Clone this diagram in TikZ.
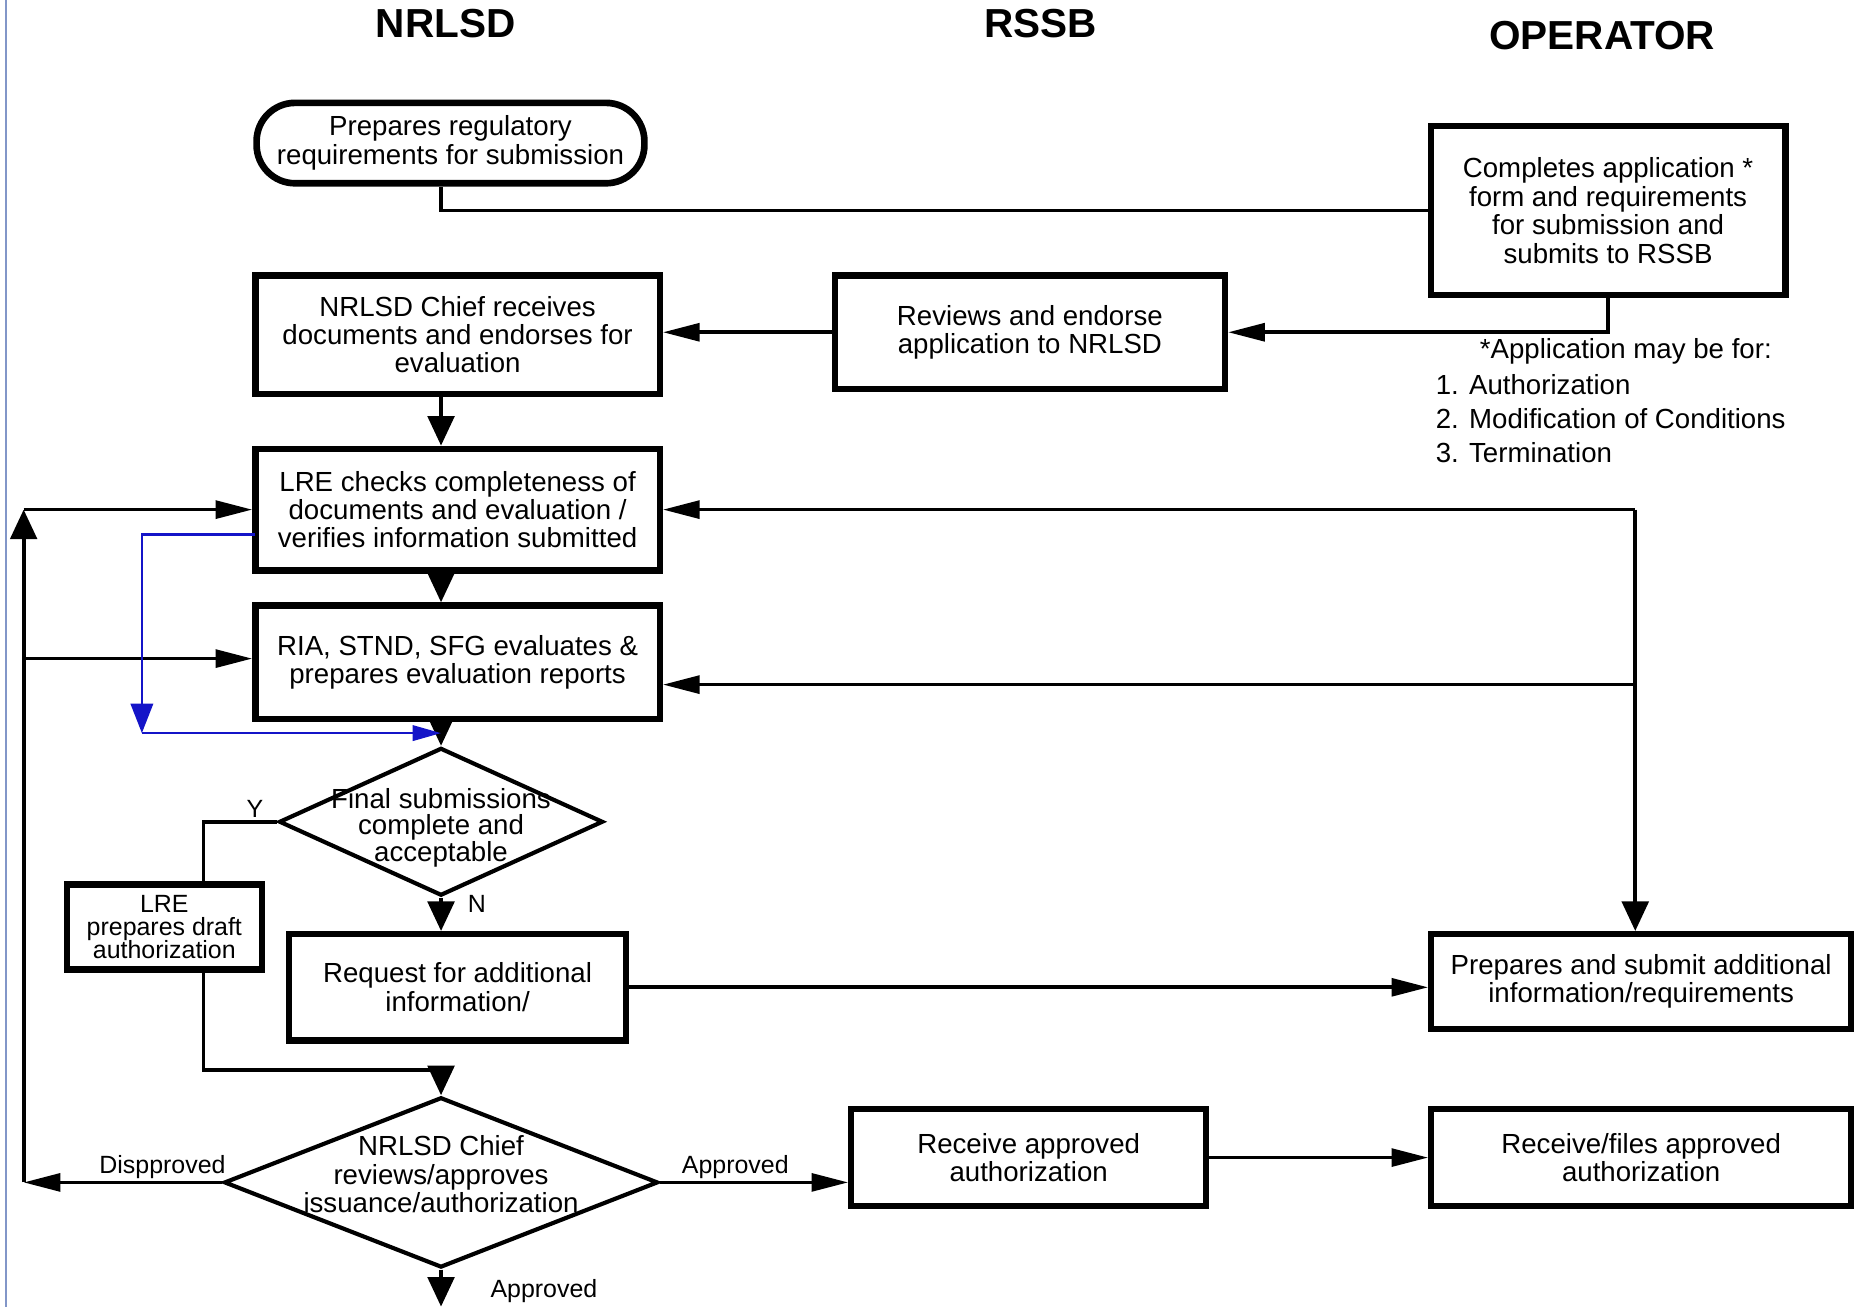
\documentclass[tikz,border=0pt]{standalone}
\usepackage{fontspec}
\setmainfont{Liberation Sans}
\usetikzlibrary{arrows.meta,shapes.geometric}
\def\bxf{\fontsize{13.3}{13.7}\selectfont}
\def\ttlf{\fontsize{19.5}{21}\selectfont\bfseries}
\def\smf{\fontsize{12}{11.2}\selectfont}
\def\fdf{\fontsize{13.3}{12.6}\selectfont}
\def\lbf{\fontsize{12}{14}\selectfont}
\def\ntf{\fontsize{13.3}{16.4}\selectfont}
\definecolor{flowblue}{RGB}{20,20,200}
\definecolor{edgeblue}{RGB}{130,150,200}

\begin{document}
\begin{tikzpicture}[x=.2mm, y=-.2mm,
  box/.style={draw, line width=3pt, align=center, font=\bxf, inner sep=2pt},
  term/.style={draw, rectangle, rounded corners=6.5mm, line width=3.2pt, align=center, font=\bxf},
  decision/.style={diamond, draw, line width=2pt, inner sep=0pt},
  ttl/.style={font=\ttlf},
  lbl/.style={font=\lbf, inner sep=1pt},
  note/.style={font=\ntf, inner sep=0pt},
  conn/.style={line width=1.8pt},
  harr/.style={conn, -{Triangle[length=6.2mm,width=3mm]}},
  varr/.style={conn, -{Triangle[length=5mm,width=4.5mm]}},
  bline/.style={draw=flowblue, line width=1.2pt},
  bharr/.style={bline, -{Triangle[length=4.8mm,width=2.6mm]}},
  bvarr/.style={bline, -{Triangle[length=5mm,width=3.8mm]}}]
\useasboundingbox (0,0) rectangle (1568,1105);
\draw[draw=edgeblue, line width=.6pt] (5,0) -- (5,1105);

       \node [ttl] at (377,20) (nrlsd) {NRLSD};
       \node [ttl] at (880,20) (rssb) {RSSB};
       \node [ttl] at (1355,30) (oper) {OPERATOR};

       \node [term, minimum width=6.56cm, minimum height=1.36cm] at (381,121) (regreq) {Prepares regulatory\\requirements for submission};
       \node [box, minimum width=6cm, minimum height=2.86cm] at (1360,178) (apply) {Completes application *\\form and requirements\\for submission and\\submits to RSSB};
       \node [box, minimum width=6.84cm, minimum height=2cm] at (387,283) (chiefrec) {NRLSD Chief receives\\documents and endorses for\\evaluation};
       \node [box, minimum width=6.6cm, minimum height=1.92cm] at (871,281) (review) {Reviews and endorse\\application to NRLSD};
       \node [note] at (1375,297) (appnote) {*Application may be for:};
       \node [note, align=left, anchor=west] at (1214,354) (applist) {1. Authorization\\2. Modification of Conditions\\3. Termination};
       \node [box, minimum width=6.84cm, minimum height=2.06cm] at (387,431) (lrecheck) {LRE checks completeness of\\documents and evaluation /\\verifies information submitted};
       \node [box, minimum width=6.84cm, minimum height=1.92cm] at (387,560) (riaeval) {RIA, STND, SFG evaluates \&\\prepares evaluation reports};
       \node [decision, minimum width=5.48cm, minimum height=2.5cm] at (373,695) (final) {};
       \node [font=\fdf, align=center] at (373,700) (finaltxt) {Final submissions\\complete and\\acceptable};
       \node [box, font=\smf, minimum width=3.3cm, minimum height=1.44cm] at (139,784) (draft) {LRE\\prepares draft\\authorization};
       \node [box, minimum width=5.7cm, minimum height=1.8cm] at (387,835) (reqinfo) {Request for additional\\information/};
       \node [box, minimum width=7.1cm, minimum height=1.6cm] at (1388,830) (subinfo) {Prepares and submit additional\\information/requirements};
       \node [decision, minimum width=7.34cm, minimum height=2.88cm] at (373,1000) (approve) {};
       \node [font=\bxf, align=center] at (373,993) (approvetxt) {NRLSD Chief\\reviews/approves\\issuance/authorization};
       \node [box, minimum width=6cm, minimum height=1.64cm] at (870,979) (recv) {Receive approved\\authorization};
       \node [box, minimum width=7.1cm, minimum height=1.64cm] at (1388,979) (files) {Receive/files approved\\authorization};
       \node [lbl] at (460,1092) (exitlbl) {Approved};
%
\coordinate (col) at (373,0);
\coordinate (ycorner) at (172,695);
\coordinate (draftout) at (172,905);
\coordinate (rtop) at (1383,431);
\coordinate (rmid) at (1383,579);
\coordinate (lbot) at (20,1000);
\coordinate (ltop) at (20,431);
\coordinate (lmid) at (20,557);
\coordinate (bstart) at (216,452);
\coordinate (bturn) at (120,620);
\coordinate (bend) at (373,620);
\coordinate (exit) at (373,1105);
%
\draw[conn] (regreq.south -| col) |- (apply.west);
\draw[harr] (apply.south) |- (review.east);
\path[harr] (review.west) edge (review.west -| chiefrec.east);
\draw[varr] (chiefrec.south -| col) -- (lrecheck.north -| col);
\draw[varr] (lrecheck.south -| col) -- (riaeval.north -| col);
\draw[varr] (riaeval.south -| col) -- (final.north);
\draw[conn] (final.west) -- node [lbl, above, pos=.3] {Y} (ycorner) -- (ycorner |- draft.north);
\path[varr] (final.south) edge node [lbl, right=11pt, pos=.2] {N} (final.south |- reqinfo.north);
\draw[varr] (ycorner |- draft.south) -- (draftout) -| (approve.north);
\path[harr] (reqinfo.east) edge (reqinfo.east -| subinfo.west);
\draw[harr] (rtop) -- (lrecheck.east);
\draw[harr] (rmid) -- (rmid -| riaeval.east);
\draw[varr] (rtop) -- (rtop |- subinfo.north);
\path[harr] (approve.west) edge node [lbl, above, pos=.3] {Dispproved} (lbot);
\draw[varr] (lbot) -- (ltop);
\draw[harr] (ltop) -- (lrecheck.west);
\draw[harr] (lmid) -- (lmid -| riaeval.west);
\path[harr] (approve.east) edge node [lbl, above, pos=.4] {Approved} (approve.east -| recv.west);
\path[harr] (recv.east) edge (files.west);
\draw[varr] (approve.south) -- (exit);
\draw[bvarr] (bstart) -| (bturn);
\draw[bharr] (bturn) -- (bend);

\end{tikzpicture}
\end{document}
